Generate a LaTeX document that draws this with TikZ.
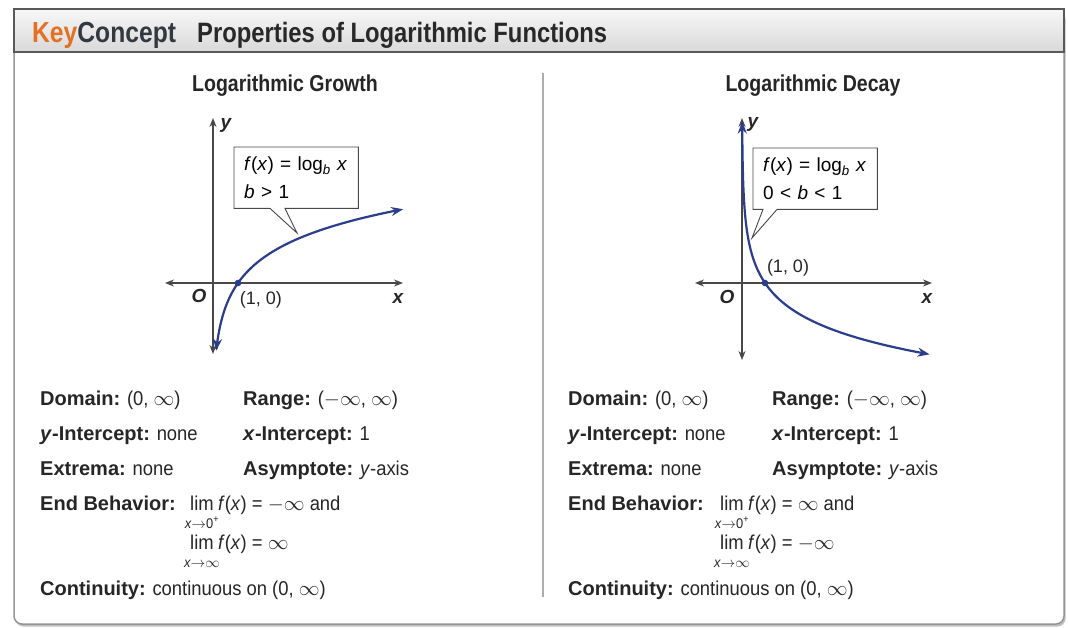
\documentclass[tikz,border=0pt]{standalone}
\usepackage{fontspec}
\setmainfont{Liberation Sans}[UprightFeatures={FakeStretch=0.92},ItalicFeatures={FakeStretch=0.92}]
\newfontfamily\headfont{Liberation Sans}[FakeStretch=0.85]
\newfontfamily\callfont{Liberation Sans}
\usetikzlibrary{arrows.meta,calc,positioning}
\definecolor{keyorange}{RGB}{228,112,36}
\definecolor{conceptgray}{RGB}{52,56,64}
\definecolor{titlegray}{RGB}{40,40,40}
\definecolor{curveblue}{RGB}{42,62,140}
\definecolor{axisgray}{RGB}{72,72,72}
\definecolor{framegray}{RGB}{150,150,150}
\newcommand{\infy}{\(\infty\)}
\newcommand{\minfy}{\(-\infty\)}
\newcommand{\arr}{\(\rightarrow\)}
\tikzset{
  axisline/.style={axisgray, line width=1.3pt, {Stealth[length=9pt,width=7pt]}-{Stealth[length=9pt,width=7pt]}},
  logcurve/.style={curveblue, line width=2.2pt, {Stealth[length=12pt,width=9pt]}-{Stealth[length=12pt,width=9pt]}},
  callbox/.style={anchor=north west, text width=104pt, inner xsep=10pt, inner ysep=0pt, minimum height=61pt, align=left, font=\callfont\fontsize{19}{24}\selectfont},
  calloutline/.style={draw=axisgray, line width=0.9pt},
  bodytext/.style={font=\fontsize{20}{22}\selectfont, anchor=base west, inner sep=0pt, text=black!85},
  limsub/.style={font=\fontsize{14}{15}\selectfont, anchor=base, inner sep=0pt, text=black!85},
  panelhead/.style={font=\headfont\bfseries\fontsize{23}{26}\selectfont, anchor=base, inner sep=0pt, text=black!85},
  axlabel/.style={font=\fontsize{19}{20}\selectfont\bfseries\itshape, inner sep=0pt, text=black!85},
  ptlabel/.style={font=\callfont\fontsize{18}{20}\selectfont, inner sep=0pt, text=black!85}
}
\begin{document}
\begin{tikzpicture}[x=1pt,y=-1pt]
  \useasboundingbox (0,0) rectangle (1068,628);
  % Marco exterior con sombra
  \fill[gray!50, rounded corners=8pt] (15.5,11) rectangle (1065.5,626.5);
  \draw[framegray, line width=1.5pt, rounded corners=8pt, fill=white] (14,9) rectangle (1064,624);
  % Barra del titulo
  \shade[top color=gray!6, bottom color=gray!30] (14,9) rectangle (1064,52);
  \draw[gray!70!black, line width=1.2pt] (14,9) rectangle (1064,52);
  \node[anchor=base west, inner sep=0pt, font=\headfont\bfseries\fontsize{29}{30}\selectfont] (keycon) at (32,43)
    {\textcolor{keyorange}{Key}\textcolor{conceptgray}{Concept}};
  \node[anchor=base west, inner sep=0pt, text=titlegray, font=\headfont\bfseries\fontsize{28}{30}\selectfont] (titulo) at (197,43)
    {Properties of Logarithmic Functions};

  % Linea divisoria
  \draw[gray!65, line width=1.2pt] (543,73) -- (543,597);

  % Crecimiento logaritmico
  \node[panelhead] (ghead) at (285,92) {Logarithmic Growth};
  \draw[axisline] (165,283) -- (403,283);
  \draw[axisline] (213,354) -- (213,118);
  \node[axlabel] (gy) at (226,125) {y};
  \node[axlabel] (gx) at (398,298) {x};
  \node[axlabel] (go) at (199,296) {O};
  \draw[logcurve] plot[domain=-1.83:1.995, samples=80] ({212+26*exp(\x)},{283-37*\x});
  \fill[curveblue] (238,283) circle (3.3);
  \node[ptlabel] (gpt) at (261,300) {(1, 0)};
  \node[callbox] (gbox) at (234,147) {\vspace*{4pt}\textit{f}(\textit{x}) = log\textsubscript{\textit{b}} \textit{x}\\\textit{b} > 1};
  \coordinate (gtip) at (297,233);
  \draw[calloutline] (gbox.south west) -- (gbox.north west) -- (gbox.north east) -- (gbox.south east)
    -- ($(gbox.south west)+(51,0)$) -- (gtip) -- ($(gbox.south west)+(36,0)$) -- cycle;

  % Decrecimiento logaritmico
  \node[panelhead] (dhead) at (813,92) {Logarithmic Decay};
  \draw[axisline] (695,283) -- (932,283);
  \draw[axisline] (742,360) -- (742,118);
  \node[axlabel] (dy) at (753,124) {y};
  \node[axlabel] (dx) at (927,298) {x};
  \node[axlabel] (do) at (727,297) {O};
  \draw[logcurve] plot[domain=-4.75:2.1, samples=100] ({742+23*exp(\x)},{283+34*\x});
  \fill[curveblue] (765,283) circle (3.3);
  \node[ptlabel] (dpt) at (788,268) {(1, 0)};
  \node[callbox] (dbox) at (753,148) {\vspace*{4pt}\textit{f}(\textit{x}) = log\textsubscript{\textit{b}} \textit{x}\\0 < \textit{b} < 1};
  \coordinate (dtip) at (752,238);
  \draw[calloutline] (dbox.south west) -- (dbox.north west) -- (dbox.north east) -- (dbox.south east)
    -- ($(dbox.south west)+(24,0)$) -- (dtip) -- ($(dbox.south west)+(10,0)$) -- cycle;

  % Propiedades (izquierda)
  \node[bodytext] (gdom) at (40,405) {\textbf{Domain:} (0, \infy)};
  \node[bodytext] (gran) at (243,405) {\textbf{Range:} (\minfy, \infy)};
  \node[bodytext] (gyint) at (40,440) {\textbf{\textit{y}-Intercept:} none};
  \node[bodytext] (gxint) at (243,440) {\textbf{\textit{x}-Intercept:} 1};
  \node[bodytext] (gext) at (40,475) {\textbf{Extrema:} none};
  \node[bodytext] (gasy) at (243,475) {\textbf{Asymptote:} \textit{y}-axis};
  \node[bodytext] (gend) at (40,510) {\textbf{End Behavior:}};
  \node[bodytext] (glima) at (190,510) {lim};
  \node[limsub] (gsuba) at ($(glima.base)+(0,18)$) {\textit{x}\arr0\textsuperscript{+}};
  \node[bodytext] (gfa) at ($(glima.base east)+(4,0)$) {\textit{f}(\textit{x}) = \minfy{} and};
  \node[bodytext] (glimb) at (190,549) {lim};
  \node[limsub] (gsubb) at ($(glimb.base)+(0,18)$) {\textit{x}\arr\infy};
  \node[bodytext] (gfb) at ($(glimb.base east)+(4,0)$) {\textit{f}(\textit{x}) = \infy};
  \node[bodytext] (gcon) at (40,595) {\textbf{Continuity:} continuous on (0, \infy)};

  % Propiedades (derecha)
  \node[bodytext] (ddom) at (568,405) {\textbf{Domain:} (0, \infy)};
  \node[bodytext] (dran) at (772,405) {\textbf{Range:} (\minfy, \infy)};
  \node[bodytext] (dyint) at (568,440) {\textbf{\textit{y}-Intercept:} none};
  \node[bodytext] (dxint) at (772,440) {\textbf{\textit{x}-Intercept:} 1};
  \node[bodytext] (dext) at (568,475) {\textbf{Extrema:} none};
  \node[bodytext] (dasy) at (772,475) {\textbf{Asymptote:} \textit{y}-axis};
  \node[bodytext] (dend) at (568,510) {\textbf{End Behavior:}};
  \node[bodytext] (dlima) at (720,510) {lim};
  \node[limsub] (dsuba) at ($(dlima.base)+(0,18)$) {\textit{x}\arr0\textsuperscript{+}};
  \node[bodytext] (dfa) at ($(dlima.base east)+(4,0)$) {\textit{f}(\textit{x}) = \infy{} and};
  \node[bodytext] (dlimb) at (720,549) {lim};
  \node[limsub] (dsubb) at ($(dlimb.base)+(0,18)$) {\textit{x}\arr\infy};
  \node[bodytext] (dfb) at ($(dlimb.base east)+(4,0)$) {\textit{f}(\textit{x}) = \minfy};
  \node[bodytext] (dcon) at (568,595) {\textbf{Continuity:} continuous on (0, \infy)};
\end{tikzpicture}
\end{document}
